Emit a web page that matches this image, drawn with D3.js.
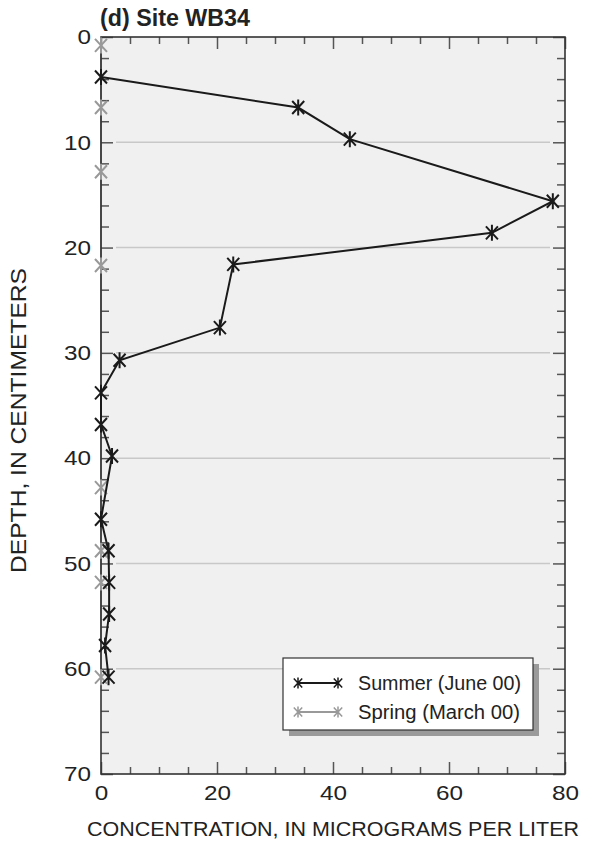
<!DOCTYPE html>
<html>
<head>
<meta charset="utf-8">
<script src="https://cdn.jsdelivr.net/npm/d3@7"></script>
<style>
  html, body { margin: 0; padding: 0; background: #fff; }
  svg { display: block; font-family: "Liberation Sans", Arial, Helvetica, sans-serif; }
</style>
</head>
<body>
<svg id="chart" width="592" height="841"></svg>
<script>
// Depth profile data, site WB34
const summerDepth = [3.8, 6.7, 9.7, 15.6, 18.6, 21.6, 27.6, 30.7, 33.8, 36.8, 39.8, 45.8, 48.8, 51.8, 54.8, 57.8, 60.8];
const summerConc  = [0, 34, 42.9, 77.9, 67.4, 22.8, 20.5, 3.2, 0, 0, 1.9, 0, 1.3, 1.4, 1.4, 0.7, 1.3];
const springDepth = [0.8, 6.7, 12.8, 21.7, 42.8, 48.8, 51.8, 60.8];
const springConc  = [0, 0, 0, 0, 0, 0, 0, 0];

const xMajorTicks = [0, 20, 40, 60, 80];
const yMajorTicks = [0, 10, 20, 30, 40, 50, 60, 70];
const gridDepths  = [10, 20, 30, 40, 50, 60];
const seriesNames = ["Summer (June 00)", "Spring (March 00)"];

const summer = summerDepth.map((d, i) => ({depth: d, conc: summerConc[i]}));
const spring = springDepth.map((d, i) => ({depth: d, conc: springConc[i]}));

const svg = d3.select("#chart");
const plotL = 101, plotR = 565, plotT = 37, plotB = 774;

const x = d3.scaleLinear().domain([0, 80]).range([plotL, plotR]);
const y = d3.scaleLinear().domain([0, 70]).range([plotT, plotB]);

const axisColor = "#333";
const tickColor = "#555";
const textColor = "#222";
const summerColor = "#1a1a1a";
const springColor = "#999";

// plot background
svg.append("rect")
  .attr("x", plotL).attr("y", plotT)
  .attr("width", plotR - plotL).attr("height", plotB - plotT)
  .attr("fill", "#f0f0f0");

// horizontal gridlines
svg.append("g").selectAll("line").data(gridDepths).join("line")
  .attr("x1", plotL + 15).attr("x2", plotR - 15)
  .attr("y1", d => y(d)).attr("y2", d => y(d))
  .attr("stroke", "#c8c8c8").attr("stroke-width", 1.5);

// spring line sits beneath the axis
const line = d3.line().x(d => x(d.conc)).y(d => y(d.depth));
svg.append("path").datum(spring)
  .attr("d", line).attr("fill", "none")
  .attr("stroke", springColor).attr("stroke-width", 2);

// axes: minor and major ticks pointing inward on all four sides
function styleAxis(g) {
  g.select(".domain").remove();
  g.selectAll(".tick line").attr("stroke", tickColor).attr("stroke-width", 1.5);
  g.selectAll(".tick text").attr("fill", textColor).attr("font-size", 21)
    .attr("textLength", function() { return this.textContent.length * 13.5; })
    .attr("lengthAdjust", "spacingAndGlyphs");
}
const d5 = d3.range(0, 81, 5).filter(v => v % 20 !== 0);
const d2 = d3.range(0, 71, 2).filter(v => v % 10 !== 0);

// bottom
svg.append("g").attr("transform", `translate(0,${plotB})`)
  .call(d3.axisBottom(x).tickValues(d5).tickSize(-7).tickFormat(""))
  .call(styleAxis);
svg.append("g").attr("transform", `translate(0,${plotB})`)
  .call(d3.axisBottom(x).tickValues(xMajorTicks).tickSize(-12).tickPadding(11).tickFormat(d3.format("d")))
  .call(styleAxis);
// top
svg.append("g").attr("transform", `translate(0,${plotT})`)
  .call(d3.axisTop(x).tickValues(d5).tickSize(-7).tickFormat(""))
  .call(styleAxis);
svg.append("g").attr("transform", `translate(0,${plotT})`)
  .call(d3.axisTop(x).tickValues(xMajorTicks).tickSize(-12).tickFormat(""))
  .call(styleAxis);
// left
svg.append("g").attr("transform", `translate(${plotL},0)`)
  .call(d3.axisLeft(y).tickValues(d2).tickSize(-8).tickFormat(""))
  .call(styleAxis);
svg.append("g").attr("transform", `translate(${plotL},0)`)
  .call(d3.axisLeft(y).tickValues(yMajorTicks).tickSize(-12).tickPadding(10).tickFormat(d3.format("d")))
  .call(styleAxis);
// right
svg.append("g").attr("transform", `translate(${plotR},0)`)
  .call(d3.axisRight(y).tickValues(d2).tickSize(-8).tickFormat(""))
  .call(styleAxis);
svg.append("g").attr("transform", `translate(${plotR},0)`)
  .call(d3.axisRight(y).tickValues(yMajorTicks).tickSize(-12).tickFormat(""))
  .call(styleAxis);

// frame
svg.append("rect")
  .attr("x", plotL).attr("y", plotT)
  .attr("width", plotR - plotL).attr("height", plotB - plotT)
  .attr("fill", "none").attr("stroke", axisColor).attr("stroke-width", 1.6);

// asterisk marker: an X crossed by a vertical stroke
function asterisk(s) {
  const a = 6 * s, b = 6.5 * s, v = 8 * s;
  return `M${-a},${-b}L${a},${b}M${-a},${b}L${a},${-b}M0,${-v}L0,${v}`;
}

// spring markers
svg.append("g").selectAll("path").data(spring).join("path")
  .attr("transform", d => `translate(${x(d.conc)},${y(d.depth)})`)
  .attr("d", asterisk(1)).attr("fill", "none")
  .attr("stroke", springColor).attr("stroke-width", 2);

// summer line and markers
svg.append("path").datum(summer)
  .attr("d", line).attr("fill", "none")
  .attr("stroke", summerColor).attr("stroke-width", 2);
svg.append("g").selectAll("path").data(summer).join("path")
  .attr("transform", d => `translate(${x(d.conc)},${y(d.depth)})`)
  .attr("d", asterisk(1)).attr("fill", "none")
  .attr("stroke", summerColor).attr("stroke-width", 2);

// legend
const lg = svg.append("g").attr("transform", "translate(283,658)");
lg.append("rect").attr("x", 6).attr("y", 6).attr("width", 250).attr("height", 72).attr("fill", "#9a9a9a");
lg.append("rect").attr("x", 0).attr("y", 0).attr("width", 250).attr("height", 72)
  .attr("fill", "#fff").attr("stroke", axisColor).attr("stroke-width", 1.2);
const legendRows = [
  {name: seriesNames[0], color: summerColor, cy: 25, w: 163},
  {name: seriesNames[1], color: springColor, cy: 54, w: 162}
];
legendRows.forEach(r => {
  lg.append("line").attr("x1", 15).attr("x2", 55).attr("y1", r.cy).attr("y2", r.cy)
    .attr("stroke", r.color).attr("stroke-width", 2);
  [15, 55].forEach(px => {
    lg.append("path").attr("transform", `translate(${px},${r.cy})`)
      .attr("d", asterisk(0.7)).attr("fill", "none")
      .attr("stroke", r.color).attr("stroke-width", 1.5);
  });
  lg.append("text").attr("x", 75).attr("y", r.cy + 7)
    .attr("font-size", 19.5).attr("fill", textColor)
    .attr("textLength", r.w).attr("lengthAdjust", "spacingAndGlyphs")
    .text(r.name);
});

// title and axis titles
svg.append("text").attr("x", 100).attr("y", 26)
  .attr("font-size", 23).attr("font-weight", "bold").attr("fill", textColor)
  .attr("textLength", 150).attr("lengthAdjust", "spacingAndGlyphs")
  .text("(d) Site WB34");
svg.append("text").attr("x", 87).attr("y", 836)
  .attr("font-size", 20).attr("fill", textColor)
  .attr("textLength", 492).attr("lengthAdjust", "spacingAndGlyphs")
  .text("CONCENTRATION, IN MICROGRAMS PER LITER");
svg.append("text").attr("transform", "translate(26,573) rotate(-90)")
  .attr("font-size", 22).attr("fill", textColor)
  .attr("textLength", 305).attr("lengthAdjust", "spacingAndGlyphs")
  .text("DEPTH, IN CENTIMETERS");
</script>
</body>
</html>
